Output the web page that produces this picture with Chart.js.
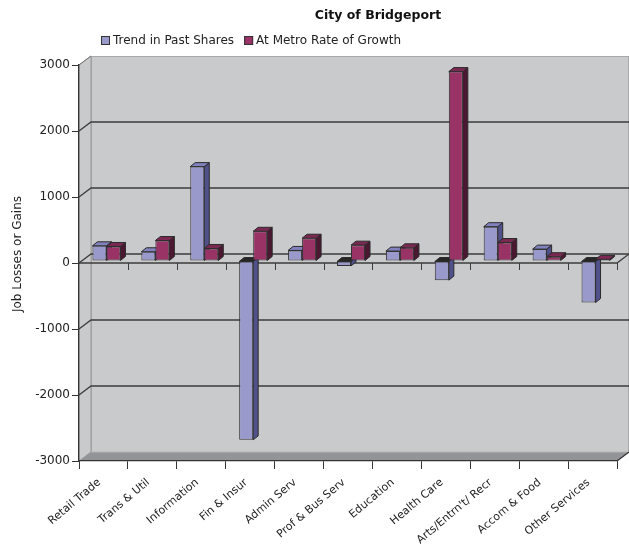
<!DOCTYPE html>
<html><head><meta charset="utf-8">
<script src="https://cdn.jsdelivr.net/npm/chart.js@4/dist/chart.umd.min.js"></script>
<style>html,body{margin:0;padding:0;background:#fff;}#wrap{width:629px;height:544px;}</style>
</head><body><div id="wrap"><canvas id="c" width="629" height="544"></canvas></div>
<script>
const categories = ['Retail Trade','Trans & Util','Information','Fin & Insur','Admin Serv','Prof & Bus Serv','Education','Health Care',"Arts/Entrn't/ Recr",'Accom & Food','Other Services'];
const trendInPastShares = [230, 140, 1430, -2710, 160, -75, 150, -290, 520, 180, -630];
const atMetroRateOfGrowth = [220, 310, 190, 450, 345, 240, 200, 2870, 280, 65, 25];
const yTickValues = [-3000, -2000, -1000, 0, 1000, 2000, 3000];
const seriesNames = ['Trend in Past Shares', 'At Metro Rate of Growth'];
const chartTitle = 'City of Bridgeport';
const yAxisTitle = 'Job Losses or Gains';

const FONT = '"DejaVu Sans", "Liberation Sans", sans-serif';
const DX = 12, DY = -9;     // wall depth
const BX = 3, BY = -2;      // bar row position in depth
const BDX = 5, BDY = -4;    // bar depth
const palette = [
  {front:'#9999cc', top:'#8181bd', side:'#50508a'},
  {front:'#993366', top:'#7b2952', side:'#4c1731'}
];

function poly(ctx, pts, fill, stroke, lw){
  ctx.beginPath();
  ctx.moveTo(pts[0][0], pts[0][1]);
  for (let i=1;i<pts.length;i++) ctx.lineTo(pts[i][0], pts[i][1]);
  ctx.closePath();
  if (fill){ ctx.fillStyle = fill; ctx.fill(); }
  if (stroke){ ctx.strokeStyle = stroke; ctx.lineWidth = lw||1; ctx.stroke(); }
}
function line(ctx, pts, color, lw){
  ctx.beginPath();
  ctx.moveTo(pts[0][0], pts[0][1]);
  for (let i=1;i<pts.length;i++) ctx.lineTo(pts[i][0], pts[i][1]);
  ctx.strokeStyle = color; ctx.lineWidth = lw||1; ctx.stroke();
}

const threeD = {
  id: 'threeD',
  beforeDraw(chart){
    const {ctx, chartArea:a, scales:{y}} = chart;
    ctx.save();
    // back wall
    ctx.fillStyle = '#c9cacc';
    ctx.fillRect(a.left+DX, a.top+DY, a.right-a.left, a.bottom-a.top);
    ctx.strokeStyle = '#a9a9a9'; ctx.lineWidth = 1;
    ctx.strokeRect(a.left+DX+0.5, a.top+DY+0.5, a.right-a.left-1, a.bottom-a.top);
    // left wall
    poly(ctx, [[a.left,a.top],[a.left+DX,a.top+DY],[a.left+DX,a.bottom+DY],[a.left,a.bottom]], '#c9cacc', '#9a9a9a', 1);
    // floor
    poly(ctx, [[a.left,a.bottom],[a.right,a.bottom],[a.right+DX,a.bottom+DY],[a.left+DX,a.bottom+DY]], '#939497', null);
    line(ctx, [[a.left+DX,a.bottom+DY],[a.right+DX,a.bottom+DY]], '#b5b5b5', 1);
    // gridlines on walls
    yTickValues.forEach(v => {
      if (v === -3000 || v === 3000) return;
      const py = y.getPixelForValue(v);
      line(ctx, [[a.left,py],[a.left+DX,py+DY],[a.right+DX,py+DY]], '#3d3d3d', 1.3);
    });
    line(ctx, [[a.left,a.top],[a.left+DX,a.top+DY]], '#777', 1);
    // front zero line with ticks
    const z = y.getPixelForValue(0);
    line(ctx, [[a.left,z],[a.right,z],[a.right+DX,z+DY]], '#3d3d3d', 1.3);
    const n = categories.length;
    for (let i=1;i<=n;i++){
      const x = Math.round(a.left + i*(a.right-a.left)/n) + 0.5;
      line(ctx, [[x,z],[x,z+7]], '#3d3d3d', 1);
    }
    // bottom right diagonal
    line(ctx, [[a.right,a.bottom],[a.right+DX,a.bottom+DY]], '#333', 1.3);
    ctx.restore();
  },
  beforeDatasetsDraw(chart){
    const ctx = chart.ctx;
    ctx.save();
    ctx.translate(BX, BY);
    chart.data.datasets.forEach((ds, di) => {
      const meta = chart.getDatasetMeta(di);
      const pal = palette[di];
      meta.data.forEach(el => {
        const {x, y, base, width} = el.getProps(['x','y','base','width'], true);
        const x0 = x - width/2, x1 = x + width/2;
        const top = Math.min(y, base), bot = Math.max(y, base);
        const neg = y > base;
        poly(ctx, [[x1,top],[x1+BDX,top+BDY],[x1+BDX,bot+BDY],[x1,bot]], pal.side, '#2b2b2b', 1);
        poly(ctx, [[x0,top],[x1,top],[x1+BDX,top+BDY],[x0+BDX,top+BDY]], neg ? '#262626' : pal.top, '#2b2b2b', 1);
      });
    });
  },
  afterDatasetsDraw(chart){
    chart.ctx.restore();
  },
  afterDraw(chart){
    const ctx = chart.ctx;
    ctx.save();
    ctx.fillStyle = '#111';
    ctx.textBaseline = 'middle';
    ctx.font = 'bold 12.5px ' + FONT;
    ctx.textAlign = 'center';
    ctx.fillText(chartTitle, 378, 16);
    // legend
    ctx.font = '12px ' + FONT;
    ctx.textAlign = 'left';
    let lx = 101;
    chart.data.datasets.forEach((ds, di) => {
      ctx.fillStyle = palette[di].front;
      ctx.fillRect(lx, 36, 9, 9);
      ctx.strokeStyle = '#333'; ctx.lineWidth = 1;
      ctx.strokeRect(lx+0.5, 36.5, 8, 8);
      ctx.fillStyle = '#222';
      ctx.fillText(ds.label, lx+12, 41);
      lx += 12 + ctx.measureText(ds.label).width + 10;
    });
    // y axis title
    ctx.translate(18, 254);
    ctx.rotate(-Math.PI/2);
    ctx.textAlign = 'center';
    ctx.fillStyle = '#222';
    ctx.fillText(yAxisTitle, 0, 0);
    ctx.restore();
  }
};

new Chart(document.getElementById('c'), {
  type: 'bar',
  data: {
    labels: categories,
    datasets: [
      {label: seriesNames[0], data: trendInPastShares, backgroundColor: palette[0].front, borderColor:'#333', borderWidth:1, borderSkipped:false, clip:false},
      {label: seriesNames[1], data: atMetroRateOfGrowth, backgroundColor: palette[1].front, borderColor:'#333', borderWidth:1, borderSkipped:false, clip:false}
    ]
  },
  options: {
    responsive: false,
    animation: false,
    devicePixelRatio: 1,
    layout: {padding: {top: 65, right: 12, left: 0, bottom: 0}},
    datasets: {bar: {categoryPercentage: 0.573, barPercentage: 1.0}},
    plugins: {legend: {display:false}, title:{display:false}, tooltip:{enabled:false}},
    scales: {
      x: {
        grid: {offset:true, drawOnChartArea:false, tickLength:8, color:'#333', lineWidth:1},
        border: {color:'#333', width:1.3},
        ticks: {minRotation:40, maxRotation:40, autoSkip:false, padding:7, labelOffset:-4, color:'#222', font:{size:11, family:FONT}},
        afterFit(s){ s.height = 83; }
      },
      y: {
        min: -3000, max: 3000,
        afterBuildTicks(s){ s.ticks = yTickValues.map(v => ({value:v})); },
        grid: {drawOnChartArea:false, tickLength:7, color:'#333'},
        border: {color:'#333', width:1.3},
        ticks: {padding:2, color:'#222', font:{size:12, family:FONT}, callback: v => String(v)},
        afterFit(s){ s.width = 79; }
      }
    }
  },
  plugins: [threeD]
});
</script>
</body></html>
